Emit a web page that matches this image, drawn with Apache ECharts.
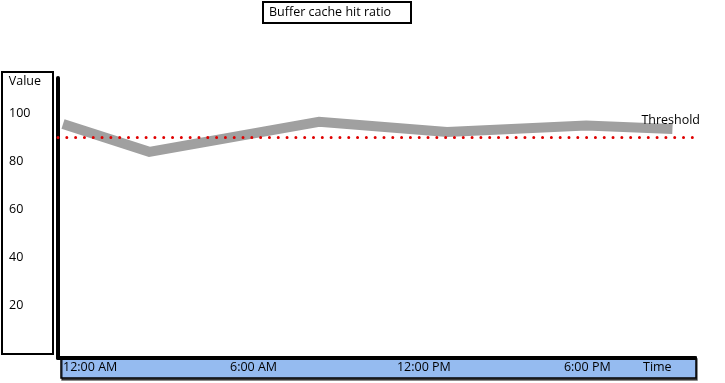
<!DOCTYPE html>
<html>
<head>
<meta charset="utf-8">
<script src="https://cdn.jsdelivr.net/npm/echarts@6/dist/echarts.min.js"></script>
<style>
html,body{margin:0;padding:0;background:#fff;}
#chart{width:725px;height:383px;}
</style>
</head>
<body>
<div id="chart"></div>
<script>
// Data
var hours = [0, 3.1, 9.2, 13.8, 18.8, 21.9];
var values = [95.4, 83.8, 96.3, 92.1, 94.8, 93.3];
var threshold = 90;
var xTickValues = [0, 6, 12, 18];
var xTickLabels = ['12:00 AM', '6:00 AM', '12:00 PM', '6:00 PM'];
var yTickValues = [20, 40, 60, 80, 100];
var titleText = 'Buffer cache hit ratio';

var FONT = '"Open Sans", sans-serif';
var FS = 12.5;
var chart = echarts.init(document.getElementById('chart'));
var seriesData = hours.map(function (h, i) { return [h, values[i]]; });

chart.setOption({
  animation: false,
  backgroundColor: '#fff',
  textStyle: { fontFamily: FONT },
  title: {
    text: titleText,
    left: 263, top: 2,
    padding: [4, 20, 4, 6],
    borderColor: '#000', borderWidth: 2,
    textStyle: { fontFamily: FONT, fontSize: FS, fontWeight: 'normal', color: '#000' }
  },
  graphic: [
    { type: 'rect', z: -10, shape: { x: 2, y: 72, width: 51, height: 282 },
      style: { fill: '#fff', stroke: '#000', lineWidth: 2 } },
    { type: 'rect', z: -10, shape: { x: 61, y: 357, width: 635, height: 21 },
      style: { fill: '#95bbf0', stroke: '#000', lineWidth: 1.5,
               shadowColor: 'rgba(0,0,0,0.6)', shadowOffsetY: 2, shadowOffsetX: 1, shadowBlur: 0 } }
  ],
  grid: { left: 58, right: 30, top: 78, bottom: 25, containLabel: false, outerBoundsMode: 'none' },
  xAxis: {
    type: 'value',
    min: -0.18, max: 22.71,
    name: 'Time',
    nameLocation: 'end',
    nameGap: -52,
    nameTextStyle: { fontFamily: FONT, fontSize: FS, color: '#000', align: 'left', verticalAlign: 'top', padding: [3, 0, 0, 0] },
    axisLine: { show: true, onZero: false, lineStyle: { color: '#000', width: 4 } },
    axisTick: { show: false },
    splitLine: { show: false },
    axisLabel: {
      customValues: xTickValues,
      formatter: function (v) { var i = xTickValues.indexOf(v); return i >= 0 ? xTickLabels[i] : ''; },
      align: 'left', margin: 3,
      color: '#000', fontFamily: FONT, fontSize: FS
    }
  },
  yAxis: {
    type: 'value',
    min: -2.08, max: 114.58,
    name: 'Value',
    nameLocation: 'end',
    nameGap: -3,
    nameTextStyle: { fontFamily: FONT, fontSize: FS, color: '#000', align: 'right', verticalAlign: 'middle', padding: [0, 17, 0, 0] },
    axisLine: { show: true, onZero: false, lineStyle: { color: '#000', width: 4 } },
    axisTick: { show: false },
    splitLine: { show: false },
    axisLabel: {
      customValues: yTickValues,
      align: 'left', margin: 49,
      color: '#000', fontFamily: FONT, fontSize: FS
    }
  },
  series: [{
    type: 'line',
    data: seriesData,
    symbol: 'none',
    silent: true,
    lineStyle: { color: '#a0a0a0', width: 10, join: 'miter', cap: 'butt' },
    markLine: {
      silent: true,
      symbol: ['none', 'none'],
      z: 10,
      lineStyle: { color: '#e00000', width: 3, type: [0.01, 8.8], cap: 'round' },
      label: { show: true, position: 'insideEndTop', formatter: 'Threshold', color: '#000',
               fontFamily: FONT, fontSize: FS, distance: [-5, 10] },
      emphasis: { disabled: true },
      data: [{ yAxis: threshold }]
    }
  }]
});
</script>
</body>
</html>
